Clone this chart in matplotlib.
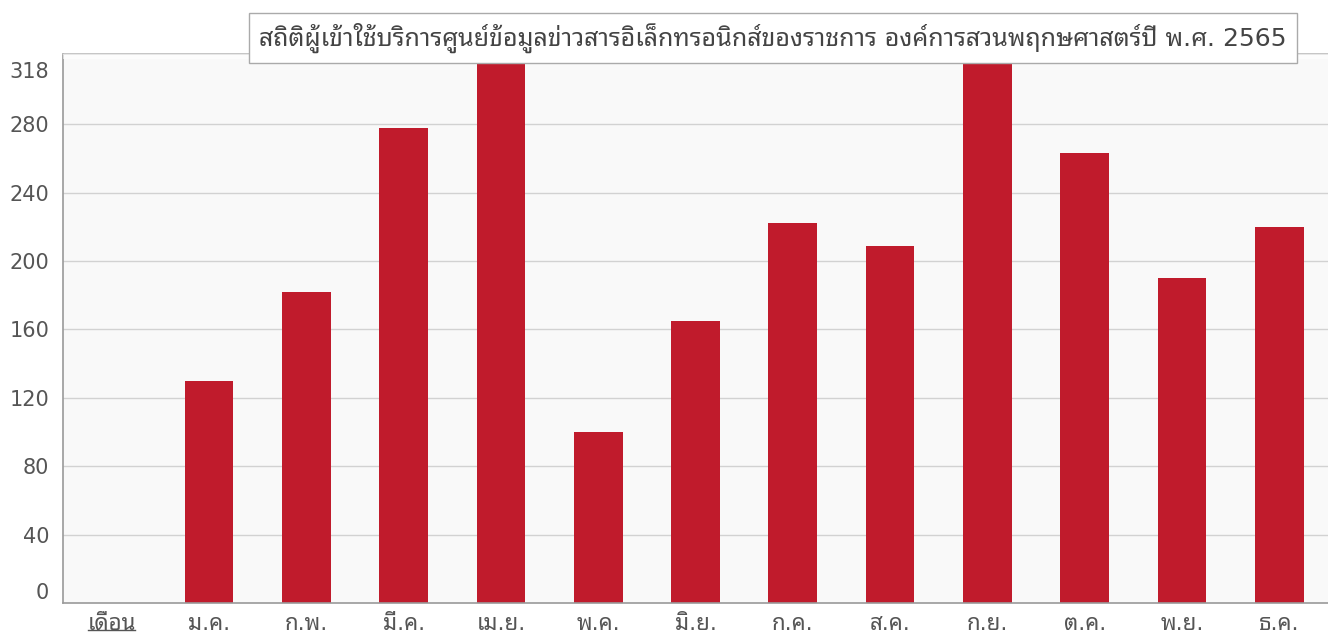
import matplotlib
matplotlib.use("Agg")
import matplotlib.pyplot as plt
from matplotlib.transforms import ScaledTranslation
from matplotlib.lines import Line2D

FONT = ["DejaVu Sans", "Noto Sans Thai Looped"]
plt.rcParams['font.family'] = FONT

title = "สถิติผู้เข้าใช้บริการศูนย์ข้อมูลข่าวสารอิเล็กทรอนิกส์ของราชการ องค์การสวนพฤกษศาสตร์ปี พ.ศ. 2565"
categories = ["เดือน", "ม.ค.", "ก.พ.", "มี.ค.", "เม.ย.", "พ.ค.", "มิ.ย.",
              "ก.ค.", "ส.ค.", "ก.ย.", "ต.ค.", "พ.ย.", "ธ.ค."]
values = [0, 130, 182, 278, 340, 100, 165, 222, 209, 340, 263, 190, 220]
ytick_values = [0, 40, 80, 120, 160, 200, 240, 280, 318]
y_max = 321

BAR = "#C01B2C"
fig = plt.figure(figsize=(13.28, 6.42), dpi=100)
fig.patch.set_facecolor("white")
ax = fig.add_axes([63 / 1328, 1 - 603 / 642, 1265 / 1328, 549 / 642])
ax.set_facecolor("#F9F9F9")

x = list(range(len(categories)))
ax.bar(x, values, width=0.5, color=BAR, zorder=2)
ax.axhspan(318.0, y_max, color="white", alpha=0.6, zorder=3, lw=0)
ax.set_xlim(-0.5, len(categories) - 0.5)
ax.set_ylim(0, y_max)

for v in ytick_values[1:-1]:
    ax.axhline(v, color="#D2D2D2", lw=1, zorder=1)

ax.set_yticks(ytick_values)
ax.set_yticklabels([str(v) for v in ytick_values])
ax.set_xticks(x)
ax.set_xticklabels(categories)
ax.tick_params(axis="y", length=0, pad=10, labelsize=15, labelcolor="#555555")
ax.tick_params(axis="x", length=0, pad=8, labelsize=16, labelcolor="#555555")

ylabels = ax.get_yticklabels()
ylabels[0].set_transform(ylabels[0].get_transform() + ScaledTranslation(0, 12 / 100, fig.dpi_scale_trans))
ylabels[-1].set_transform(ylabels[-1].get_transform() + ScaledTranslation(0, -11 / 100, fig.dpi_scale_trans))

for side in ["left", "bottom", "top"]:
    ax.spines[side].set_color("#9A9A9A")
    ax.spines[side].set_linewidth(1.2)
ax.spines["top"].set_color("#BBBBBB")
ax.spines["right"].set_visible(False)

fig.text(773 / 1328, 1 - 38 / 642, title, ha="center", va="center", fontsize=18,
         color="#444444",
         bbox=dict(boxstyle="square,pad=0.4", facecolor="white", edgecolor="#AAAAAA", lw=1))

# underline first category label
fig.canvas.draw()
lab = ax.get_xticklabels()[0]
bb = lab.get_window_extent()
fig.add_artist(Line2D([bb.x0 + 1, bb.x1 - 1], [bb.y0 + 4, bb.y0 + 4], transform=None,
                      color="#555555", lw=1))

fig.savefig("out.png", dpi=100, facecolor="white")
